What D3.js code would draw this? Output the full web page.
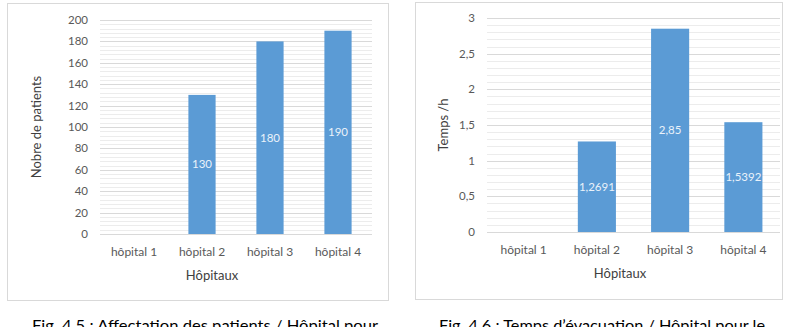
<!DOCTYPE html>
<html>
<head>
<meta charset="utf-8">
<script src="https://cdn.jsdelivr.net/npm/d3@7"></script>
<style>
  body { margin: 0; background: #fff; }
  svg { font-family: Lato, "Open Sans", sans-serif; }
</style>
</head>
<body>
<div id="chart"></div>
<script>
// data
const hospitals = ['hôpital 1', 'hôpital 2', 'hôpital 3', 'hôpital 4'];
const patients = [0, 130, 180, 190];
const patientLabels = ['', '130', '180', '190'];
const evacTimes = [0, 1.2691, 2.85, 1.5392];
const evacLabels = ['', '1,2691', '2,85', '1,5392'];
const patientTicks = [0, 20, 40, 60, 80, 100, 120, 140, 160, 180, 200];
const timeTicks = [0, 0.5, 1, 1.5, 2, 2.5, 3];
const timeTickLabels = ['0', '0,5', '1', '1,5', '2', '2,5', '3'];

const width = 799, height = 327;

const svg = d3.select('#chart')
    .append('svg')
    .attr('width', width)
    .attr('height', height);

function drawChart(opts) {
    const g = svg.append('g');

    // frame
    g.append('rect')
        .attr('x', opts.box[0] + 0.5)
        .attr('y', opts.box[1] + 0.5)
        .attr('width', opts.box[2])
        .attr('height', opts.box[3])
        .attr('fill', '#fff')
        .attr('stroke', '#d9d9d9');

    const x = d3.scaleBand()
        .domain(hospitals)
        .range([opts.left, opts.right])
        .paddingInner(opts.pad)
        .paddingOuter(opts.pad / 2);

    const y = d3.scaleLinear()
        .domain([0, opts.max])
        .range([opts.bottom, opts.top]);

    // minor grid
    const minor = d3.range(0, opts.max + 1e-9, opts.minorStep);
    g.append('g').selectAll('line')
        .data(minor)
        .join('line')
        .attr('x1', opts.left).attr('x2', opts.right)
        .attr('y1', d => Math.round(y(d)) + 0.5)
        .attr('y2', d => Math.round(y(d)) + 0.5)
        .attr('stroke', '#ececec');

    // major grid
    g.append('g').selectAll('line')
        .data(opts.ticks)
        .join('line')
        .attr('x1', opts.left).attr('x2', opts.right)
        .attr('y1', d => Math.round(y(d)) + 0.5)
        .attr('y2', d => Math.round(y(d)) + 0.5)
        .attr('stroke', '#d9d9d9');

    // y tick labels
    g.append('g').selectAll('text')
        .data(opts.ticks)
        .join('text')
        .attr('x', opts.left - 12)
        .attr('y', d => y(d))
        .attr('dy', '0.35em')
        .attr('text-anchor', 'end')
        .attr('font-size', 11.5)
        .attr('fill', '#595959')
        .text((d, i) => opts.tickLabels[i]);

    // bars
    g.append('g').selectAll('rect')
        .data(opts.values)
        .join('rect')
        .attr('x', (d, i) => x(hospitals[i]))
        .attr('y', d => y(d))
        .attr('width', x.bandwidth())
        .attr('height', d => y(0) - y(d))
        .attr('fill', '#5b9bd5');

    // value labels
    g.append('g').selectAll('text')
        .data(opts.values)
        .join('text')
        .attr('x', (d, i) => x(hospitals[i]) + x.bandwidth() / 2)
        .attr('y', d => (y(d) + y(0)) / 2)
        .attr('dy', '0.35em')
        .attr('text-anchor', 'middle')
        .attr('font-size', 11.5)
        .attr('fill', '#eaf2fa')
        .text((d, i) => opts.valueLabels[i]);

    // x labels
    g.append('g').selectAll('text')
        .data(hospitals)
        .join('text')
        .attr('x', d => x(d) + x.bandwidth() / 2)
        .attr('y', opts.bottom + 18)
        .attr('dy', '0.35em')
        .attr('text-anchor', 'middle')
        .attr('font-size', 12)
        .attr('fill', '#595959')
        .text(d => d);

    // axis titles
    g.append('text')
        .attr('x', opts.xTitleX)
        .attr('y', opts.bottom + 41)
        .attr('dy', '0.35em')
        .attr('text-anchor', 'middle')
        .attr('font-size', 13)
        .attr('fill', '#404040')
        .text('Hôpitaux');

    g.append('text')
        .attr('transform', `translate(${opts.yTitleX}, ${opts.yTitleY}) rotate(-90)`)
        .attr('dy', '0.35em')
        .attr('text-anchor', 'middle')
        .attr('font-size', 13)
        .attr('fill', '#404040')
        .text(opts.yTitle);

    // caption (cut by page bottom, as in the source)
    g.append('text')
        .attr('x', opts.capX)
        .attr('y', 331)
        .attr('font-size', 16)
        .attr('fill', '#000')
        .attr('textLength', opts.capW)
        .attr('lengthAdjust', 'spacingAndGlyphs')
        .text(opts.caption);
}

drawChart({
    box: [7, 3, 381, 297],
    left: 100, right: 372, top: 20, bottom: 234,
    pad: 0.6,
    max: 200, minorStep: 4,
    ticks: patientTicks,
    tickLabels: patientTicks.map(String),
    values: patients,
    valueLabels: patientLabels,
    xTitleX: 212,
    yTitle: 'Nobre de patients',
    yTitleX: 36, yTitleY: 127,
    caption: 'Fig. 4.5 : Affectation des patients / Hôpital pour',
    capX: 32, capW: 346
});

drawChart({
    box: [415, 2, 367, 297],
    left: 487, right: 780, top: 18, bottom: 232,
    pad: 0.48,
    max: 3, minorStep: 0.1,
    ticks: timeTicks,
    tickLabels: timeTickLabels,
    values: evacTimes,
    valueLabels: evacLabels,
    xTitleX: 620,
    yTitle: 'Temps /h',
    yTitleX: 443, yTitleY: 125,
    caption: 'Fig. 4.6 : Temps d\u2019évacuation / Hôpital pour le',
    capX: 439, capW: 326
});
</script>
</body>
</html>
